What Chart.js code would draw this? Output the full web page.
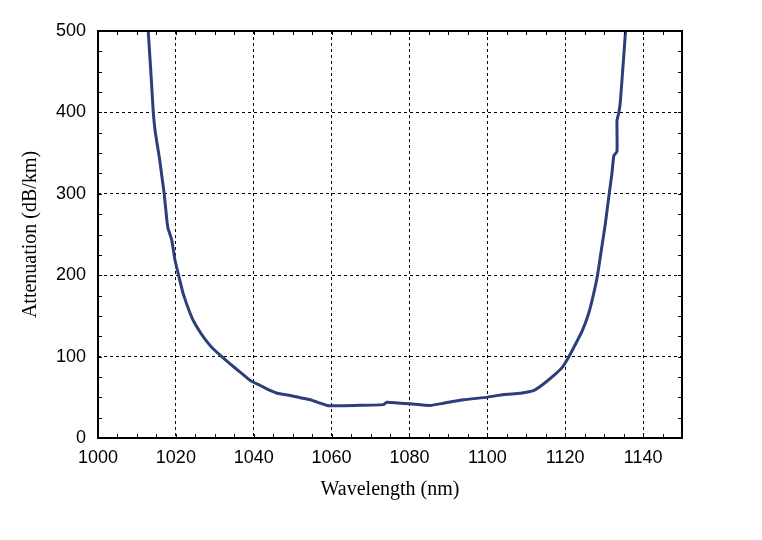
<!DOCTYPE html>
<html>
<head>
<meta charset="utf-8">
<script src="https://cdn.jsdelivr.net/npm/chart.js@4"></script>
<style>
  html, body { margin: 0; padding: 0; background: #fff; }
  #wrap { width: 762px; height: 540px; }
</style>
</head>
<body>
<div id="wrap"><canvas id="chart1"></canvas></div>
<script>
// values
const wavelengths = [
    1012.9, 1013.3, 1013.7, 1014.2, 1014.6, 1014.9, 1015.4, 1015.9, 1016.5, 1017.0,
    1017.7, 1018.0, 1018.3, 1018.95, 1019.8, 1020.65, 1021.9, 1023.7, 1024.95, 1027.1,
    1029.2, 1031.8, 1033.95, 1036.5, 1039.1, 1041.7, 1044.2, 1046.0, 1049.4, 1052.0,
    1054.5, 1057.1, 1058.8, 1060.0, 1066.0, 1073.3, 1074.2, 1077.0, 1080.2, 1085.3,
    1088.8, 1093.9, 1100.1, 1104.2, 1108.5, 1112.0, 1114.5, 1117.1, 1119.3, 1121.0,
    1122.7, 1124.4, 1126.0, 1127.3, 1128.3, 1129.0, 1130.3, 1131.3, 1132.0, 1132.5,
    1133.3, 1133.3, 1133.8, 1134.2, 1135.5
];
const attenuation = [
    500, 470, 440, 400, 380, 370, 355, 340, 318, 300,
    267, 257, 253, 243, 218, 201, 177, 152.7, 140, 124,
    111.6, 100, 91, 81, 70.7, 64.5, 58.4, 55, 52.2, 49.5,
    47, 42.8, 40, 39.5, 40, 41, 44, 43, 42, 40,
    42.8, 47, 50.2, 53.5, 55, 58.4, 66.6, 76.8, 87, 100.5,
    115.8, 132, 152.6, 177, 200, 222, 263, 300, 325, 347,
    352, 390, 400, 415, 500
];
const xMin = 1000, xMax = 1150, xMajor = 20, xMinor = 5;
const yMin = 0, yMax = 500, yMajor = 100, yMinor = 25;

const ctx1 = document.getElementById('chart1').getContext('2d');

const points = wavelengths.map((w, i) => ({ x: w, y: attenuation[i] }));

// frame + inward minor ticks on all four sides
const framePlugin = {
    id: 'frame',
    afterDatasetsDraw(chart) {
        const { ctx, chartArea: a, scales } = chart;
        ctx.save();
        ctx.strokeStyle = '#000';
        ctx.lineWidth = 1;
        ctx.beginPath();
        for (let v = xMin; v <= xMax; v += xMinor) {
            const px = Math.round(scales.x.getPixelForValue(v)) + 0.5;
            ctx.moveTo(px, a.bottom); ctx.lineTo(px, a.bottom - 4);
            ctx.moveTo(px, a.top); ctx.lineTo(px, a.top + 4);
        }
        for (let v = yMin; v <= yMax; v += yMinor) {
            const py = Math.round(scales.y.getPixelForValue(v)) + 0.5;
            ctx.moveTo(a.left, py); ctx.lineTo(a.left + 4, py);
            ctx.moveTo(a.right, py); ctx.lineTo(a.right - 4, py);
        }
        ctx.stroke();
        ctx.lineWidth = 2;
        ctx.strokeRect(a.left, a.top, a.right - a.left, a.bottom - a.top);
        ctx.restore();
    }
};

const tickFont = { family: '"Liberation Sans", Arial, sans-serif', size: 18 };
const titleFont = { family: '"Liberation Serif", "Times New Roman", serif', size: 20 };

const chart = new Chart(ctx1, {
    type: 'line',
    data: {
        datasets: [{
            data: points,
            borderColor: '#2c3f78',
            borderWidth: 3,
            pointRadius: 0,
            tension: 0.15,
            fill: false
        }]
    },
    plugins: [framePlugin],
    options: {
        responsive: true,
        maintainAspectRatio: false,
        animation: false,
        layout: { padding: { top: 31, right: 80, left: 0, bottom: 0 } },
        plugins: {
            legend: { display: false },
            tooltip: { enabled: false }
        },
        scales: {
            x: {
                type: 'linear',
                min: xMin,
                max: xMax,
                afterFit: (s) => { s.height = 102; },
                border: { display: false, dash: [3, 3] },
                grid: {
                    drawTicks: false,
                    color: (c) => (c.tick && c.tick.value % xMajor === 0) ? '#000' : 'rgba(0,0,0,0)',
                    lineWidth: 1
                },
                ticks: {
                    stepSize: xMinor,
                    autoSkip: false,
                    maxRotation: 0,
                    padding: 9,
                    color: '#000',
                    font: tickFont,
                    callback: function (value) {
                        return value % xMajor === 0 ? value : '';
                    }
                },
                title: {
                    display: true,
                    text: 'Wavelength (nm)',
                    color: '#000',
                    font: titleFont,
                    padding: { top: 0, bottom: 38 }
                }
            },
            y: {
                min: yMin,
                max: yMax,
                afterFit: (s) => { s.width = 98; },
                border: { display: false, dash: [3, 3] },
                grid: {
                    drawTicks: false,
                    color: (c) => (c.tick && c.tick.value % yMajor === 0) ? '#000' : 'rgba(0,0,0,0)',
                    lineWidth: 1
                },
                ticks: {
                    stepSize: yMinor,
                    autoSkip: false,
                    padding: 12,
                    color: '#000',
                    font: tickFont,
                    callback: function (value) {
                        return value % yMajor === 0 ? value : '';
                    }
                },
                title: {
                    display: true,
                    text: 'Attenuation (dB/km)',
                    color: '#000',
                    font: titleFont,
                    padding: { top: 19, bottom: 0 }
                }
            }
        }
    }
});
</script>
</body>
</html>
